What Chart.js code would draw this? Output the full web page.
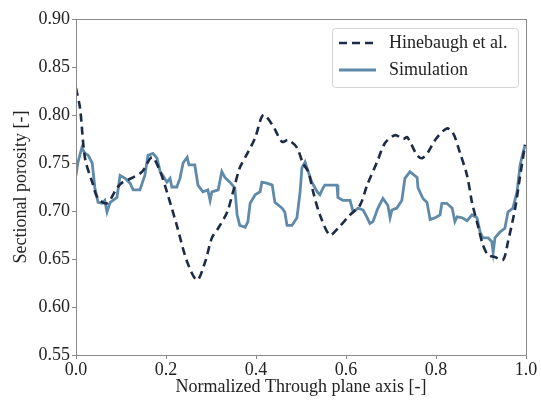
<!DOCTYPE html>
<html>
<head>
<meta charset="utf-8">
<script src="https://cdn.jsdelivr.net/npm/chart.js@4"></script>
<style>
  html, body { margin: 0; padding: 0; background: #fff; }
  #wrap { width: 541px; height: 401px; }
</style>
</head>
<body>
<div id="wrap"><canvas id="chart"></canvas></div>
<script>
// data
const hineX = [0.000, 0.009, 0.020, 0.036, 0.049, 0.069, 0.091, 0.104, 0.127, 0.147, 0.169, 0.187, 0.202, 0.224, 0.247, 0.269, 0.287, 0.302, 0.316, 0.336, 0.349, 0.364, 0.382, 0.398, 0.416, 0.436, 0.458, 0.471, 0.491, 0.504, 0.516, 0.527, 0.542, 0.564, 0.582, 0.609, 0.631, 0.647, 0.669, 0.687, 0.709, 0.727, 0.736, 0.758, 0.769, 0.782, 0.798, 0.824, 0.838, 0.853, 0.869, 0.880, 0.893, 0.904, 0.916, 0.931, 0.949, 0.960, 0.976, 0.987, 0.998];
const hineY = [0.828, 0.807, 0.755, 0.730, 0.713, 0.708, 0.724, 0.730, 0.735, 0.741, 0.756, 0.741, 0.720, 0.685, 0.647, 0.628, 0.647, 0.672, 0.682, 0.699, 0.720, 0.745, 0.761, 0.776, 0.800, 0.790, 0.772, 0.774, 0.766, 0.750, 0.741, 0.720, 0.696, 0.675, 0.682, 0.696, 0.706, 0.727, 0.751, 0.771, 0.779, 0.775, 0.777, 0.758, 0.755, 0.761, 0.774, 0.786, 0.781, 0.761, 0.737, 0.709, 0.685, 0.665, 0.654, 0.652, 0.649, 0.668, 0.703, 0.737, 0.769];

const simX = [0.000, 0.004, 0.013, 0.020, 0.027, 0.036, 0.042, 0.049, 0.058, 0.064, 0.069, 0.076, 0.091, 0.098, 0.109, 0.120, 0.127, 0.142, 0.153, 0.160, 0.171, 0.180, 0.187, 0.193, 0.202, 0.209, 0.213, 0.224, 0.231, 0.238, 0.247, 0.251, 0.264, 0.271, 0.282, 0.293, 0.298, 0.302, 0.316, 0.324, 0.331, 0.342, 0.353, 0.358, 0.364, 0.376, 0.382, 0.387, 0.398, 0.409, 0.413, 0.424, 0.436, 0.442, 0.458, 0.464, 0.469, 0.480, 0.491, 0.498, 0.502, 0.509, 0.516, 0.524, 0.536, 0.542, 0.549, 0.553, 0.580, 0.582, 0.593, 0.609, 0.616, 0.627, 0.638, 0.647, 0.653, 0.660, 0.671, 0.682, 0.693, 0.698, 0.702, 0.713, 0.724, 0.731, 0.742, 0.758, 0.760, 0.771, 0.780, 0.787, 0.798, 0.809, 0.813, 0.824, 0.836, 0.842, 0.847, 0.858, 0.869, 0.880, 0.891, 0.898, 0.904, 0.916, 0.924, 0.927, 0.931, 0.942, 0.953, 0.960, 0.971, 0.980, 0.987, 0.993, 0.998];
const simY = [0.737, 0.750, 0.766, 0.760, 0.758, 0.750, 0.724, 0.709, 0.708, 0.711, 0.699, 0.709, 0.714, 0.737, 0.734, 0.729, 0.722, 0.722, 0.737, 0.758, 0.760, 0.755, 0.741, 0.737, 0.730, 0.734, 0.725, 0.725, 0.734, 0.750, 0.756, 0.748, 0.748, 0.727, 0.720, 0.722, 0.711, 0.720, 0.722, 0.741, 0.735, 0.730, 0.724, 0.696, 0.685, 0.683, 0.689, 0.708, 0.717, 0.720, 0.730, 0.729, 0.727, 0.709, 0.703, 0.699, 0.685, 0.685, 0.693, 0.720, 0.745, 0.751, 0.741, 0.730, 0.720, 0.717, 0.724, 0.727, 0.727, 0.714, 0.711, 0.711, 0.699, 0.703, 0.701, 0.693, 0.687, 0.689, 0.703, 0.713, 0.706, 0.693, 0.701, 0.703, 0.711, 0.734, 0.741, 0.735, 0.724, 0.713, 0.709, 0.691, 0.693, 0.696, 0.708, 0.708, 0.703, 0.689, 0.694, 0.693, 0.690, 0.696, 0.693, 0.678, 0.672, 0.672, 0.668, 0.657, 0.672, 0.678, 0.682, 0.699, 0.703, 0.720, 0.748, 0.760, 0.769];

const xTicks = [0.0, 0.2, 0.4, 0.6, 0.8, 1.0];
const yTicks = [0.55, 0.60, 0.65, 0.70, 0.75, 0.80, 0.85, 0.90];
const seriesNames = ['Hinebaugh et al.', 'Simulation'];

const font = 'Liberation Serif, Times New Roman, serif';
const axisGray = '#8a8a8a';

function toPoints(xs, ys) {
  return xs.map(function(x, i) { return { x: x, y: ys[i] }; });
}

// box around the plot, like matplotlib spines
const frame = {
  id: 'frame',
  afterDatasetsDraw(chart) {
    const a = chart.chartArea, ctx = chart.ctx;
    ctx.save();
    ctx.strokeStyle = axisGray;
    ctx.lineWidth = 1;
    ctx.strokeRect(Math.round(a.left) + 0.5, Math.round(a.top) + 0.5,
      Math.round(a.right - a.left), Math.round(a.bottom - a.top));
    ctx.restore();
  }
};

// boxed legend in the upper right corner
const boxLegend = {
  id: 'boxLegend',
  afterDraw(chart) {
    const a = chart.chartArea, ctx = chart.ctx;
    const w = 186, h = 59;
    const x0 = a.right - w - 8, y0 = a.top + 9;
    ctx.save();
    ctx.fillStyle = 'rgba(255,255,255,0.85)';
    ctx.strokeStyle = '#d4d4d4';
    ctx.lineWidth = 1;
    ctx.beginPath();
    ctx.roundRect(x0 + 0.5, y0 + 0.5, w, h, 3);
    ctx.fill();
    ctx.stroke();
    chart.data.datasets.forEach(function(ds, i) {
      const y = y0 + 15 + i * 27;
      ctx.strokeStyle = ds.borderColor;
      ctx.lineWidth = ds.borderWidth;
      ctx.setLineDash(ds.borderDash || []);
      ctx.beginPath();
      ctx.moveTo(x0 + 7, y);
      ctx.lineTo(x0 + 44, y);
      ctx.stroke();
      ctx.setLineDash([]);
      ctx.fillStyle = '#222';
      ctx.font = '18px ' + font;
      ctx.textBaseline = 'middle';
      ctx.fillText(ds.label, x0 + 57, y);
    });
    ctx.restore();
  }
};

new Chart(document.getElementById('chart'), {
  type: 'line',
  data: {
    datasets: [
      {
        label: seriesNames[0],
        data: toPoints(hineX, hineY),
        borderColor: '#1d2b47',
        borderWidth: 2.6,
        borderDash: [8, 5],
        pointRadius: 0,
        tension: 0.3,
        fill: false
      },
      {
        label: seriesNames[1],
        data: toPoints(simX, simY),
        borderColor: '#5f8aa9',
        borderWidth: 2.8,
        pointRadius: 0,
        tension: 0,
        fill: false
      }
    ]
  },
  options: {
    responsive: true,
    maintainAspectRatio: false,
    animation: false,
    layout: { padding: { top: 19, right: 15, left: 10, bottom: 0 } },
    plugins: {
      legend: { display: false },
      tooltip: { enabled: false }
    },
    scales: {
      x: {
        type: 'linear',
        min: 0, max: 1,
        afterBuildTicks: function(scale) { scale.ticks = xTicks.map(function(v) { return { value: v }; }); },
        afterFit: function(scale) { scale.height = 46; },
        ticks: {
          color: '#222',
          font: { family: font, size: 18 },
          padding: 0,
          maxRotation: 0,
          callback: function(v) { return v.toFixed(1); }
        },
        grid: { drawOnChartArea: false, drawTicks: true, tickLength: 4, color: axisGray },
        border: { color: axisGray },
        title: {
          display: true,
          text: 'Normalized Through plane axis [-]',
          color: '#222',
          font: { family: font, size: 18 },
          padding: { top: 0, bottom: 3 }
        }
      },
      y: {
        min: 0.55, max: 0.90,
        afterBuildTicks: function(scale) { scale.ticks = yTicks.map(function(v) { return { value: v }; }); },
        afterFit: function(scale) { scale.width = 66; },
        ticks: {
          color: '#222',
          font: { family: font, size: 18 },
          padding: 2,
          callback: function(v) { return v.toFixed(2); }
        },
        grid: { drawOnChartArea: false, drawTicks: true, tickLength: 4, color: axisGray },
        border: { color: axisGray },
        title: {
          display: true,
          text: 'Sectional porosity [-]',
          color: '#222',
          font: { family: font, size: 18 },
          padding: { top: 0, bottom: 0 }
        }
      }
    }
  },
  plugins: [frame, boxLegend]
});
</script>
</body>
</html>
